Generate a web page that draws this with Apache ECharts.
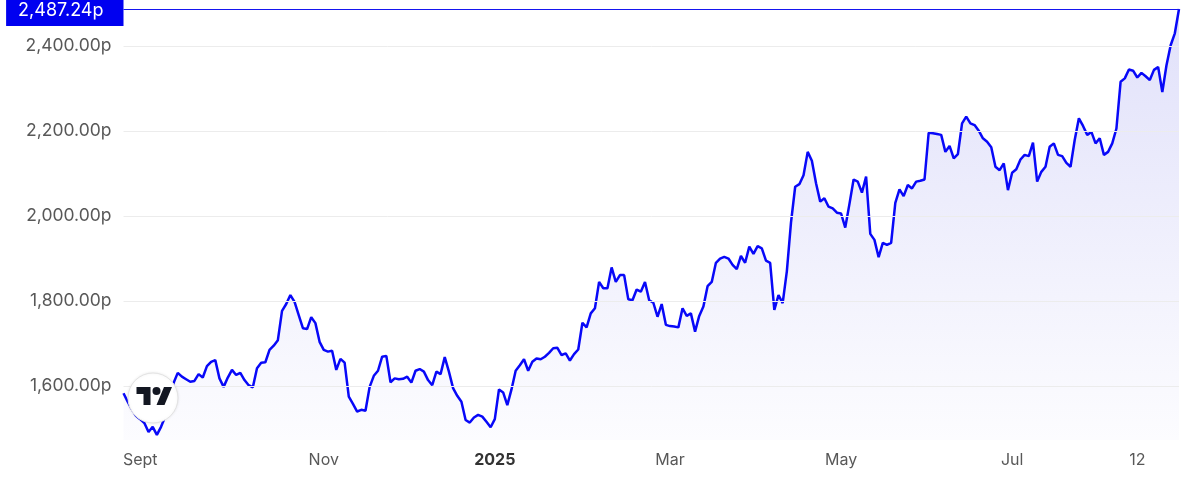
<!DOCTYPE html>
<html><head><meta charset="utf-8">
<script src="https://cdn.jsdelivr.net/npm/echarts@6/dist/echarts.min.js"></script>
<style>html,body{margin:0;padding:0;background:#fff}#c{width:1190px;height:490px}</style>
</head><body><div id="c"></div>
<script>
// ---- data ----
const startDate = '2024-08-27';
const endDate = '2025-08-27';
const holidays = ['2024-12-25','2024-12-26','2025-01-01','2025-04-18','2025-04-21','2025-05-05','2025-05-26','2025-08-25'];
const prices = [
1583,1563,1545,1530,1522,1513,1492,1504,1485,1504,
1528,1568,1607,1631,1622,1616,1610,1612,1628,1620,
1647,1657,1661,1618,1598,1620,1638,1626,1631,1614,
1602,1597,1642,1655,1656,1685,1695,1708,1777,1793,
1814,1798,1767,1736,1734,1762,1748,1704,1685,1681,
1683,1638,1664,1655,1575,1558,1540,1544,1542,1598,
1624,1636,1669,1671,1609,1618,1616,1617,1622,1608,
1636,1640,1634,1614,1602,1634,1628,1668,1634,1595,
1577,1563,1520,1514,1526,1532,1528,1516,1503,1522,
1592,1585,1555,1592,1636,1649,1663,1636,1657,1665,
1663,1669,1678,1689,1690,1673,1677,1660,1675,1686,
1749,1738,1771,1783,1845,1830,1830,1879,1845,1861,
1861,1804,1802,1827,1822,1845,1802,1796,1763,1793,
1744,1741,1740,1738,1783,1765,1771,1728,1765,1787,
1835,1845,1890,1900,1904,1900,1885,1875,1906,1890,
1928,1911,1929,1924,1895,1890,1779,1814,1795,1870,
1985,2069,2075,2096,2151,2130,2077,2034,2042,2022,
2018,2008,2006,1973,2028,2086,2081,2055,2093,1958,
1944,1903,1937,1932,1937,2031,2063,2047,2073,2065,
2081,2083,2086,2196,2195,2193,2191,2151,2165,2136,
2146,2218,2234,2218,2214,2201,2183,2175,2162,2116,
2108,2124,2061,2102,2110,2133,2144,2141,2173,2081,
2104,2116,2163,2171,2144,2141,2125,2116,2179,2230,
2212,2191,2198,2171,2183,2144,2151,2171,2206,2316,
2324,2345,2342,2326,2337,2329,2320,2344,2351,2292,
2355,2402,2430,2487.24
];
const yTicks = [1600, 1800, 2000, 2200, 2400];
const yMin = 1473;
const xLabelDates = ['2024-09-02','2024-11-01','2025-01-02','2025-03-03','2025-05-01','2025-07-01','2025-08-12'];
const xLabelTexts = ['Sept','Nov','2025','Mar','May','Jul','12'];

// ---- build trading-day categories ----
function fmt(d){return d.toISOString().slice(0,10);}
function tradingDays(){
  const out=[]; const d=new Date(startDate+'T00:00:00Z'); const end=new Date(endDate+'T00:00:00Z');
  while(d<=end){const wd=d.getUTCDay(); const s=fmt(d); if(wd!==0&&wd!==6&&holidays.indexOf(s)<0) out.push(s); d.setUTCDate(d.getUTCDate()+1);}
  return out;
}
const dates = tradingDays();
const lastPrice = prices[prices.length-1];
function money(v){return v.toLocaleString('en-US',{minimumFractionDigits:2,maximumFractionDigits:2})+'p';}

const chart = echarts.init(document.getElementById('c'), null, {renderer:'canvas'});
const FONT = 'Inter';
chart.setOption({
  animation:false,
  backgroundColor:'#ffffff',
  grid:{left:123.5,right:11,top:9,bottom:50,containLabel:false},
  xAxis:{
    type:'category', data:dates, boundaryGap:false,
    axisLine:{show:false}, axisTick:{show:false}, splitLine:{show:false},
    axisLabel:{
      interval:function(i,v){return xLabelDates.indexOf(v)>=0;},
      formatter:function(v){const i=xLabelDates.indexOf(v); if(i<0) return ''; const t=xLabelTexts[i]; return /^\d{4}$/.test(t)?'{y|'+t+'}':t;},
      color:'#585858', fontSize:16, fontFamily:FONT, margin:12,
      rich:{y:{fontWeight:'bold',color:'#333333',fontSize:16,fontFamily:FONT}}
    }
  },
  yAxis:{
    type:'value', min:yMin, max:lastPrice, position:'left',
    axisLine:{show:false}, axisTick:{show:false}, splitLine:{show:false},
    axisLabel:{customValues:yTicks, formatter:function(v){return money(v);}, color:'#585858', fontSize:17.5, fontFamily:FONT, margin:12}
  },
  series:[{
    type:'line', data:prices, showSymbol:false, symbol:'none', clip:false,
    lineStyle:{color:'#0808f8', width:2.5},
    areaStyle:{color:new echarts.graphic.LinearGradient(0,0,0,1,[{offset:0,color:'rgba(40,40,220,0.2)'},{offset:1,color:'rgba(40,40,220,0.02)'}])},
    markLine:{
      silent:true, symbol:['none','none'], animation:false,
      data: yTicks.map(function(v){return {yAxis:v, lineStyle:{color:'#ececec',width:1,type:'solid'}, label:{show:false}};}).concat([
        {yAxis:lastPrice, lineStyle:{color:'#1515f0',width:1.2,type:'solid'},
         label:{show:true, position:'start', distance:0, offset:[0,2], formatter:money(lastPrice), color:'#ffffff', backgroundColor:'#0000f0',
                fontSize:18, fontFamily:FONT, padding:[6,20,6,12]}}
      ])
    }
  }],
  graphic:[
    {type:'circle', shape:{cx:153,cy:398,r:25}, style:{fill:'#ffffff',stroke:'#e3e3e3',lineWidth:1, shadowBlur:3, shadowColor:'rgba(0,0,0,0.08)'}, z:100},
    {type:'polygon', x:136.5, y:383, shape:{points:[[0,4],[14,4],[14,22],[7,22],[7,11],[0,11]]}, style:{fill:'#131722'}, z:101},
    {type:'polygon', x:136.5, y:383, shape:{points:[[20,22],[27.5,4],[35.5,4],[28,22]]}, style:{fill:'#131722'}, z:101},
    {type:'circle', x:136.5, y:383, shape:{cx:20,cy:8,r:4}, style:{fill:'#131722'}, z:101}
  ]
});
</script>
</body></html>
